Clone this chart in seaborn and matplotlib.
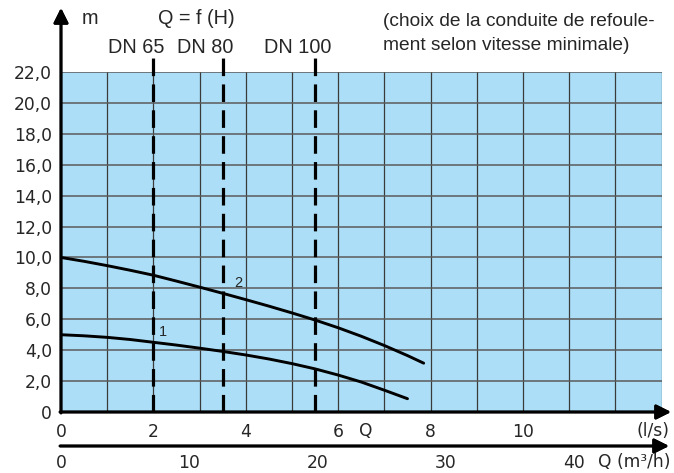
import matplotlib
matplotlib.use('Agg')
import matplotlib.pyplot as plt
import seaborn as sns
import pandas as pd

# pump curves: Q in l/s, H in m
q_curve1 = [0.0, 0.5, 1.0, 1.5, 2.0, 2.5, 3.0, 3.5, 4.0, 4.5, 5.0, 5.5, 6.0, 6.5, 7.0, 7.5]
h_curve1 = [5.0, 4.93, 4.83, 4.69, 4.51, 4.33, 4.13, 3.92, 3.69, 3.43, 3.13, 2.79, 2.39, 1.94, 1.41, 0.86]
q_curve2 = [0.0, 0.5, 1.0, 1.5, 2.0, 2.5, 3.0, 3.5, 4.0, 4.5, 5.0, 5.5, 6.0, 6.5, 7.0, 7.5, 7.85]
h_curve2 = [10.0, 9.75, 9.47, 9.17, 8.85, 8.47, 8.08, 7.68, 7.27, 6.85, 6.41, 5.95, 5.45, 4.9, 4.3, 3.65, 3.16]

# pipe diameter limits (l/s)
dn_labels = ['DN 65', 'DN 80', 'DN 100']
dn_q = [2.0, 3.5, 5.5]

y_ticks = [0, 2, 4, 6, 8, 10, 12, 14, 16, 18, 20, 22]
x_ticks_ls = [0, 2, 4, 6, 8, 10]
x_ticks_m3h = [0, 10, 20, 30, 40]

df = pd.concat([
    pd.DataFrame({'Q': q_curve1, 'H': h_curve1, 'curve': '1'}),
    pd.DataFrame({'Q': q_curve2, 'H': h_curve2, 'curve': '2'}),
])

sns.set_theme(style='white')
plt.rcParams['font.family'] = ['DejaVu Sans']
head_font = ['Liberation Sans', 'DejaVu Sans']
tick_size = 12.3

W, H = 674, 473
fig = plt.figure(figsize=(W / 100, H / 100), dpi=100)
x0, x1 = 61, 661.6
y0, y1 = 412, 72
ax = fig.add_axes([x0 / W, (H - y0) / H, (x1 - x0) / W, (y0 - y1) / H])
ax.set_facecolor('#acdff7')
ax.set_xlim(0, 13)
ax.set_ylim(0, 22)

# grid
for gx in range(1, 14):
    ax.axvline(gx, color='#3a3a3a', lw=0.9, zorder=1)
for gy in y_ticks[1:]:
    ax.axhline(gy, color='#5a5a5a', lw=1.1, zorder=1)

sns.lineplot(data=df, x='Q', y='H', units='curve', estimator=None, color='black',
             lw=2.1, ax=ax, sort=False, legend=False, zorder=4)
ax.text(2.2, 5.15, '1', fontsize=10.5, ha='center', va='center', family=head_font)
ax.text(3.83, 8.35, '2', fontsize=10.5, ha='center', va='center', family=head_font)

for q in dn_q:
    ax.plot([q, q], [0, 22.9], color='black', lw=2.3, dashes=(5.5, 2.6), clip_on=False, zorder=5)
for lab, q in zip(dn_labels, [1.63, 3.12, 5.12]):
    ax.text(q, 23.6, lab, fontsize=14.3, ha='center', va='center', family=head_font)

for s in ax.spines.values():
    s.set_visible(False)
ax.set_xticks(x_ticks_ls)
ax.set_xticklabels([str(v) for v in x_ticks_ls])
ax.set_xticks(range(0, 14), minor=True)
ax.set_yticks(y_ticks)
ax.set_yticklabels(['0' if v == 0 else f'{v},0' for v in y_ticks])
ax.tick_params(axis='y', labelsize=tick_size, length=4.5, width=1, color='black', direction='out', pad=2)
ax.tick_params(axis='x', which='major', labelsize=tick_size, length=0, pad=8)
ax.tick_params(axis='x', which='minor', length=3, width=1, color='black', direction='out')
ax.set_xlabel('')
ax.set_ylabel('')

# axis arrows (figure pixel coords)
arrow = dict(arrowstyle='-|>', lw=2, color='black', mutation_scale=22, shrinkA=0, shrinkB=0)
fig.add_artist(plt.annotate('', xy=(x0, H - 8), xytext=(x0, H - y0 - 1), xycoords='figure pixels',
                            arrowprops=arrow))
fig.add_artist(plt.annotate('', xy=(671, H - y0), xytext=(x0 - 1, H - y0), xycoords='figure pixels',
                            arrowprops=arrow))

# second Q axis in m3/h
yb = 446
ax2 = fig.add_axes([x0 / W, (H - yb) / H, (x1 - x0) / W, 0.0001])
ax2.set_xlim(0, 13 * 3.6)
ax2.set_yticks([])
for s in ax2.spines.values():
    s.set_visible(False)
ax2.set_xticks(x_ticks_m3h)
ax2.set_xticklabels([str(v) for v in x_ticks_m3h])
ax2.set_xticks([5, 15, 25, 35, 45], minor=True)
ax2.tick_params(axis='x', which='both', direction='out', length=3.6, width=1, color='black',
                labelsize=tick_size, pad=2.5)
fig.add_artist(plt.annotate('', xy=(669, H - yb), xytext=(x0 - 1, H - yb), xycoords='figure pixels',
                            arrowprops=arrow))

# header and axis titles
fig.text(90 / W, 1 - 18 / H, 'm', fontsize=14.3, ha='center', va='center', family=head_font)
fig.text(196 / W, 1 - 18 / H, 'Q = f (H)', fontsize=14.3, ha='center', va='center', family=head_font)
fig.text(383 / W, 1 - 21 / H, '(choix de la conduite de refoule-', fontsize=13.8, ha='left', va='center',
         family=head_font)
fig.text(383 / W, 1 - 45 / H, 'ment selon vitesse minimale)', fontsize=13.8, ha='left', va='center',
         family=head_font)
fig.text(366 / W, 1 - 431 / H, 'Q', fontsize=tick_size, ha='center', va='center')
fig.text(670 / W, 1 - 431 / H, '(l/s)', fontsize=tick_size, ha='right', va='center')
fig.text(670 / W, 1 - 462 / H, 'Q (m³/h)', fontsize=tick_size, ha='right', va='center')

fig.savefig('out.png', dpi=100)
